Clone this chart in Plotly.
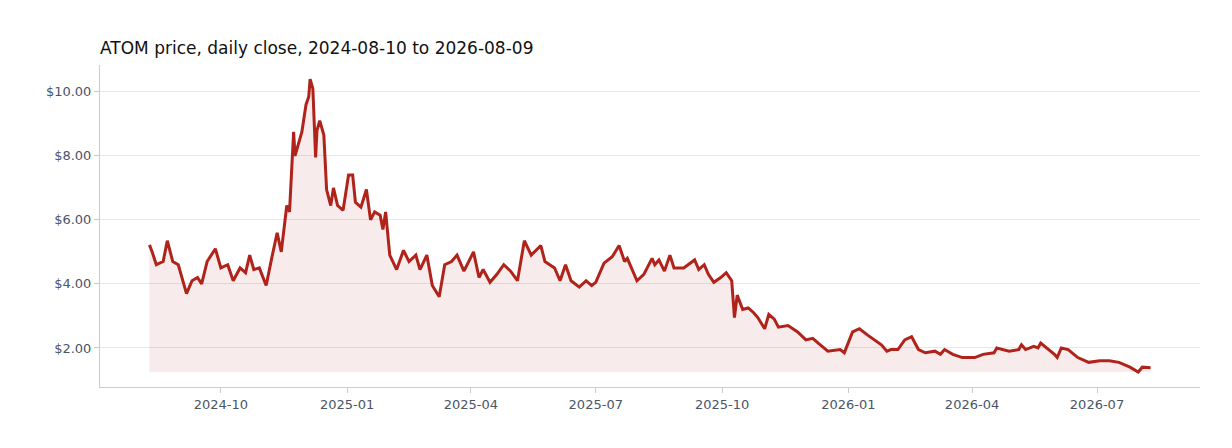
import plotly.graph_objects as go

dates = ["2024-08-10","2024-08-12","2024-08-15","2024-08-20","2024-08-23","2024-08-27","2024-08-31","2024-09-06","2024-09-10","2024-09-14","2024-09-17","2024-09-21","2024-09-27","2024-10-01","2024-10-06","2024-10-10","2024-10-15","2024-10-19","2024-10-22","2024-10-25","2024-10-29","2024-11-03","2024-11-07","2024-11-11","2024-11-14","2024-11-17","2024-11-18","2024-11-20","2024-11-23","2024-11-24","2024-11-26","2024-11-29","2024-12-02","2024-12-04","2024-12-05","2024-12-07","2024-12-09","2024-12-10","2024-12-12","2024-12-15","2024-12-17","2024-12-20","2024-12-22","2024-12-25","2024-12-29","2025-01-02","2025-01-05","2025-01-07","2025-01-11","2025-01-15","2025-01-18","2025-01-21","2025-01-25","2025-01-27","2025-01-29","2025-02-01","2025-02-06","2025-02-11","2025-02-15","2025-02-20","2025-02-23","2025-02-28","2025-03-04","2025-03-09","2025-03-13","2025-03-18","2025-03-22","2025-03-27","2025-04-03","2025-04-07","2025-04-10","2025-04-15","2025-04-20","2025-04-25","2025-04-30","2025-05-05","2025-05-10","2025-05-15","2025-05-22","2025-05-25","2025-06-01","2025-06-05","2025-06-09","2025-06-13","2025-06-19","2025-06-24","2025-06-28","2025-07-01","2025-07-07","2025-07-13","2025-07-18","2025-07-22","2025-07-24","2025-07-31","2025-08-05","2025-08-11","2025-08-13","2025-08-16","2025-08-20","2025-08-24","2025-08-27","2025-09-03","2025-09-11","2025-09-14","2025-09-18","2025-09-21","2025-09-25","2025-09-30","2025-10-04","2025-10-08","2025-10-10","2025-10-12","2025-10-16","2025-10-20","2025-10-24","2025-10-27","2025-11-01","2025-11-04","2025-11-08","2025-11-11","2025-11-18","2025-11-25","2025-12-01","2025-12-06","2025-12-10","2025-12-17","2025-12-26","2025-12-29","2026-01-04","2026-01-09","2026-01-15","2026-01-20","2026-01-25","2026-01-29","2026-02-01","2026-02-06","2026-02-11","2026-02-16","2026-02-21","2026-02-26","2026-03-05","2026-03-09","2026-03-12","2026-03-18","2026-03-25","2026-04-03","2026-04-09","2026-04-17","2026-04-19","2026-04-28","2026-05-05","2026-05-07","2026-05-10","2026-05-16","2026-05-19","2026-05-21","2026-05-27","2026-05-31","2026-06-02","2026-06-05","2026-06-10","2026-06-17","2026-06-25","2026-07-03","2026-07-10","2026-07-17","2026-07-25","2026-07-31","2026-08-03","2026-08-09"]
prices = [5.22,5.0,4.6,4.7,5.35,4.7,4.6,3.7,4.1,4.2,4.0,4.7,5.1,4.5,4.6,4.1,4.5,4.35,4.9,4.45,4.5,3.95,4.8,5.6,5.0,6.15,6.45,6.25,8.75,8.0,8.3,8.75,9.6,9.85,10.4,10.1,7.95,8.8,9.1,8.65,6.95,6.45,7.0,6.45,6.3,7.4,7.4,6.55,6.4,6.95,6.0,6.25,6.15,5.7,6.25,4.9,4.45,5.05,4.7,4.9,4.45,4.9,3.95,3.6,4.6,4.7,4.9,4.4,5.0,4.2,4.45,4.05,4.3,4.6,4.4,4.1,5.35,4.9,5.2,4.7,4.5,4.1,4.6,4.1,3.9,4.1,3.95,4.05,4.65,4.85,5.2,4.7,4.8,4.1,4.3,4.8,4.6,4.75,4.4,4.9,4.5,4.5,4.75,4.45,4.6,4.3,4.05,4.2,4.35,4.1,2.95,3.65,3.2,3.25,3.1,2.95,2.6,3.05,2.9,2.65,2.7,2.5,2.25,2.3,2.15,1.9,1.95,1.85,2.5,2.6,2.4,2.25,2.1,1.9,1.95,1.95,2.25,2.35,1.95,1.85,1.9,1.8,1.95,1.8,1.7,1.7,1.8,1.85,2.0,1.9,1.95,2.1,1.95,2.05,2.0,2.15,1.95,1.8,1.7,2.0,1.95,1.7,1.55,1.6,1.6,1.55,1.4,1.25,1.4,1.38]

base = min(prices)
fig = go.Figure()
fig.add_trace(go.Scatter(x=dates, y=[base]*len(dates), mode="lines",
                         line=dict(width=0), hoverinfo="skip", showlegend=False))
fig.add_trace(go.Scatter(x=dates, y=prices, mode="lines", fill="tonexty",
                         fillcolor="rgba(178,34,34,0.09)",
                         line=dict(color="#b0231b", width=3), showlegend=False))
fig.update_layout(
    width=1232, height=448, plot_bgcolor="white", paper_bgcolor="white",
    margin=dict(l=92, r=40, t=57, b=69),
    title=dict(text="ATOM price, daily close, 2024-08-10 to 2026-08-09",
               x=0, xref="paper", xanchor="left", y=0.91, yanchor="middle",
               font=dict(family="DejaVu Sans", size=17, color="#111")),
    font=dict(family="DejaVu Sans", size=13, color="#4a5568"),
)
fig.update_xaxes(range=["2024-07-05", "2026-09-14"], dtick="M3", tick0="2024-10-01",
                 tickformat="%Y-%m", showgrid=False, showline=True, linecolor="#ccc",
                 ticks="outside", tickcolor="#ccc", ticklen=5)
fig.update_yaxes(range=[0.78, 10.84], tickvals=[2, 4, 6, 8, 10], tickformat="$.2f",
                 showgrid=True, gridcolor="#e5e7eb", showline=True, linecolor="#ccc",
                 zeroline=False, ticks="outside", tickcolor="#ccc", ticklen=5)
fig.write_html("out.html")
